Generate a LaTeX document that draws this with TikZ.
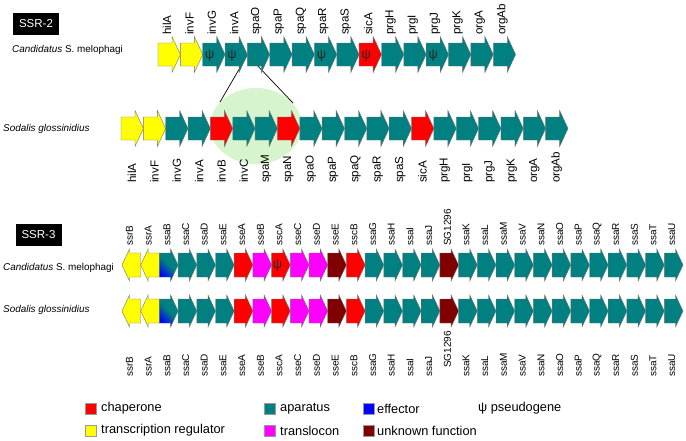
\documentclass[tikz,border=0pt]{standalone}
\usepackage{fontspec}
\setmainfont{Liberation Sans}
\usepackage{tikz}

\definecolor{chaperone}{RGB}{255,0,0}
\definecolor{regulator}{RGB}{255,255,0}
\definecolor{aparatus}{RGB}{0,128,128}
\definecolor{effector}{RGB}{0,0,255}
\definecolor{translocon}{RGB}{255,0,255}
\definecolor{unknown}{RGB}{128,0,0}
\definecolor{zoomgreen}{RGB}{214,245,207}

\tikzset{
  genebox/.style={draw=black!55,line width=0.4pt},
  reg/.style={fill=regulator},
  apa/.style={fill=aparatus},
  cha/.style={fill=chaperone},
  tra/.style={fill=translocon},
  unk/.style={fill=unknown},
  eff/.style={top color=effector,bottom color=aparatus,middle color=aparatus,shading angle=135},
  lab2/.style={rotate=90,inner sep=0pt,font=\fontsize{11.6}{13}\selectfont},
  lab3/.style={rotate=90,inner sep=0pt,font=\fontsize{10}{11}\selectfont},
  species/.style={inner sep=0pt,anchor=west,font=\fontsize{9.9}{11}\selectfont},
  psi/.style={inner sep=0pt,text=black!85,font=\fontsize{13}{14}\selectfont},
  ssrtitle/.style={fill=black,text=white,inner sep=0pt,minimum width=46,minimum height=22,font=\fontsize{11.5}{13}\selectfont},
  legbox/.style={draw=black!40,line width=0.3pt,minimum size=11,inner sep=0pt},
  legtext/.style={inner sep=0pt,anchor=west,font=\fontsize{12.8}{14}\selectfont}
}

% gene arrows: x start, y centre, style
\newcommand{\genetwo}[3]{%
  \path[genebox,#3] (#1,#2-11.5) -- (#1+14,#2-11.5) -- (#1+14,#2-18) -- (#1+22.35,#2)
    -- (#1+14,#2+18) -- (#1+14,#2+11.5) -- (#1,#2+11.5) -- cycle;}
\newcommand{\genethree}[3]{%
  \path[genebox,#3] (#1,#2-12) -- (#1+11.2,#2-12) -- (#1+11.2,#2-16) -- (#1+18.7,#2)
    -- (#1+11.2,#2+16) -- (#1+11.2,#2+12) -- (#1,#2+12) -- cycle;}
\newcommand{\genethreeleft}[3]{%
  \path[genebox,#3] (#1+18.7,#2-12) -- (#1+7.5,#2-12) -- (#1+7.5,#2-16) -- (#1,#2)
    -- (#1+7.5,#2+16) -- (#1+7.5,#2+12) -- (#1+18.7,#2+12) -- cycle;}

\begin{document}
\begin{tikzpicture}[x=1pt,y=-1pt]
	  \useasboundingbox (0,0) rectangle (686,440);
	  % SSR-2
	  \node[ssrtitle] (ssr2) at (36,24) {SSR-2};
	  \node[species] (cm2) at (12,50) {\textit{Candidatus} S. melophagi};
	  \node[species] (sg2) at (3,129) {\textit{Sodalis glossinidius}};
	  \fill[zoomgreen] (256,126) ellipse (46 and 38);
	  \coordinate (zoomtop) at (247.4,55);
	  \coordinate (zoomleft) at (220,102);
	  \coordinate (zoomright) at (293,103);
	  \draw[line width=0.7pt] (zoomtop) -- (zoomleft);
	  \draw[line width=0.7pt] (zoomtop) -- (zoomright);
	  \foreach \nm/\col [count=\i from 0] in {hilA/reg,invF/reg,invG/apa,invA/apa,spaO/apa,spaP/apa,spaQ/apa,spaR/apa,spaS/apa,sicA/cha,prgH/apa,prgI/apa,prgJ/apa,prgK/apa,orgA/apa,orgAb/apa}{
	    \pgfmathsetmacro{\xs}{158+22.35*\i}
	    \genetwo{\xs}{54.5}{\col}
	    \node[lab2,anchor=west] (cm2-\i) at (\xs+9,35) {\nm};
	  }
	  \foreach \i in {2,3,7,9,12}{
	    \node[psi] (psi2-\i) at (158+22.35*\i+7,55.5) {ψ};
	  }
	  \foreach \nm/\col [count=\i from 0] in {hilA/reg,invF/reg,invG/apa,invA/apa,invB/cha,invC/apa,spaM/apa,spaN/cha,spaO/apa,spaP/apa,spaQ/apa,spaR/apa,spaS/apa,sicA/cha,prgH/apa,prgI/apa,prgJ/apa,prgK/apa,orgA/apa,orgAb/apa}{
	    \pgfmathsetmacro{\xs}{121+22.35*\i}
	    \genetwo{\xs}{128.5}{\col}
	    \node[lab2,anchor=west] (sg2-\i) at (\xs+11,183) {\nm};
	  }
	  % SSR-3
	  \node[ssrtitle] (ssr3) at (38.5,235) {SSR-3};
	  \node[species] (cm3) at (3,268) {\textit{Candidatus} S. melophagi};
	  \node[species] (sg3) at (3,310) {\textit{Sodalis glossinidius}};
	  \foreach \nm/\col [count=\i from 0] in {ssrB/reg,ssrA/reg,ssaB/eff,ssaC/apa,ssaD/apa,ssaE/apa,sseA/cha,sseB/tra,sscA/cha,sseC/tra,sseD/tra,sseE/unk,sscB/cha,ssaG/apa,ssaH/apa,ssaI/apa,ssaJ/apa,SG1296/unk,ssaK/apa,ssaL/apa,ssaM/apa,ssaV/apa,ssaN/apa,ssaO/apa,ssaP/apa,ssaQ/apa,ssaR/apa,ssaS/apa,ssaT/apa,ssaU/apa}{
	    \pgfmathsetmacro{\xs}{122+18.7*\i}
	    \pgfmathsetmacro{\yl}{\i==17 ? 368 : 377}
	    \ifnum\i<2
	      \genethreeleft{\xs}{265}{\col}
	      \genethreeleft{\xs}{311}{\col}
	    \else
	      \genethree{\xs}{265}{\col}
	      \genethree{\xs}{311}{\col}
	    \fi
	    \node[lab3,anchor=west] (cm3-\i) at (\xs+7.5,246) {\nm};
	    \node[lab3,anchor=west] (sg3-\i) at (\xs+7.5,\yl) {\nm};
	  }
	  \node[psi] (psi3-8) at (122+18.7*8+6,266) {ψ};
	  % legend
	  \node[legbox,fill=chaperone] (kcha) at (91,408.5) {};
	  \node[legtext] (tcha) at (101,408.5) {chaperone};
	  \node[legbox,fill=regulator] (kreg) at (91,430.5) {};
	  \node[legtext] (treg) at (101,430.5) {transcription regulator};
	  \node[legbox,fill=aparatus] (kapa) at (270,408.5) {};
	  \node[legtext] (tapa) at (280,408.5) {aparatus};
	  \node[legbox,fill=translocon] (ktra) at (270,430.5) {};
	  \node[legtext] (ttra) at (280,430.5) {translocon};
	  \node[legbox,fill=effector] (keff) at (368.5,408.5) {};
	  \node[legtext] (teff) at (377,408.5) {effector};
	  \node[legbox,fill=unknown] (kunk) at (368.5,430.5) {};
	  \node[legtext] (tunk) at (377,430.5) {unknown function};
	  \node[legtext] (tpsi) at (478,408.5) {ψ pseudogene};
	\end{tikzpicture}
\end{document}
